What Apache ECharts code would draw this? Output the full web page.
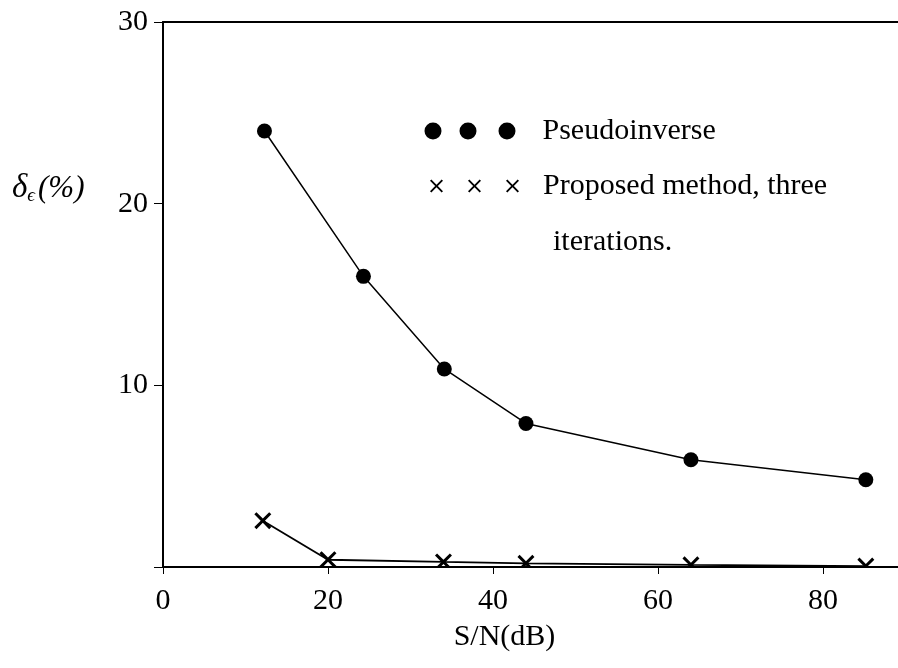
<!DOCTYPE html>
<html>
<head>
<meta charset="utf-8">
<script src="https://cdn.jsdelivr.net/npm/echarts@6/dist/echarts.min.js"></script>
<style>
  html, body { margin: 0; padding: 0; background: #fff; }
  #chart { width: 898px; height: 668px; }
</style>
</head>
<body>
<div id="chart"></div>
<script>
// Relative error vs. signal-to-noise ratio
const snrPseudo     = [12.3, 24.3, 34.1, 44.0, 64.0, 85.2];
const errPseudo     = [24.0, 16.0, 10.9, 7.9, 5.9, 4.8];
const snrProposed   = [12.1, 20.0, 34.0, 44.0, 64.0, 85.2];
const errProposed   = [2.55, 0.4, 0.28, 0.2, 0.12, 0.05];

const xTickValues = [0, 20, 40, 60, 80];
const yTickValues = [10, 20, 30];

const namePseudo   = 'Pseudoinverse';
const nameProposed = 'Proposed method, three iterations.';

const SERIF = "'Liberation Serif', 'Times New Roman', serif";
const FS = 30;

// X-shaped marker outline inside a square box of side s, arm half-thickness d
function crossPath(ox, s, d) {
  const h = s / 2;
  const pts = [
    [0, d], [d, 0], [h, h - d], [s - d, 0], [s, d], [h + d, h],
    [s, s - d], [s - d, s], [h, h + d], [d, s], [0, s - d], [h - d, h]
  ];
  return 'M' + pts.map(p => (p[0] + ox).toFixed(2) + ',' + p[1].toFixed(2)).join(' L') + ' Z';
}
function circlePath(cx, r) {
  return 'M' + (cx - r) + ',' + r + ' a' + r + ',' + r + ' 0 1,0 ' + (2 * r) + ',0 a' +
    r + ',' + r + ' 0 1,0 ' + (-2 * r) + ',0 Z';
}

const markerX = 'path://' + crossPath(0, 20, 2.5);
const legendDots = 'path://' + [0, 35, 74].map(o => circlePath(o + 8.5, 8.5)).join(' ');
const legendCrosses = 'path://' + [0, 38, 76].map(o => crossPath(o, 13, 1.35)).join(' ');

const chart = echarts.init(document.getElementById('chart'), null, { renderer: 'canvas' });

chart.setOption({
  animation: false,
  backgroundColor: '#fff',
  grid: { left: 163, right: 0, top: 22, bottom: 101, containLabel: false },
  title: [{
    left: 12, top: 172, padding: 0,
    text: '{d|δ}{e|ϵ}{p|(%)}',
    textStyle: {
      fontWeight: 'normal',
      rich: {
        d: { fontFamily: SERIF, fontStyle: 'italic', fontWeight: 'normal', fontSize: 33, color: '#000' },
        e: { fontFamily: SERIF, fontStyle: 'italic', fontWeight: 'normal', fontSize: 19, color: '#000', padding: [14, 3, 0, 0] },
        p: { fontFamily: SERIF, fontStyle: 'italic', fontWeight: 'normal', fontSize: 31, color: '#000' }
      }
    }
  }, {
    left: 553, top: 227, padding: 0,
    text: 'iterations.',
    textStyle: { fontFamily: SERIF, fontSize: FS, fontWeight: 'normal', color: '#000' }
  }],
  legend: [{
    left: 424.5, top: 116, padding: 0,
    itemWidth: 91, itemHeight: 17,
    data: [{ name: namePseudo, icon: legendDots }],
    textStyle: { fontFamily: SERIF, fontSize: FS, color: '#000', padding: [0, 0, 0, 22] },
    selectedMode: false
  }, {
    left: 430, top: 171, padding: 0,
    itemWidth: 89, itemHeight: 13,
    data: [{ name: nameProposed, icon: legendCrosses }],
    formatter: () => 'Proposed method, three',
    textStyle: { fontFamily: SERIF, fontSize: FS, color: '#000', padding: [0, 0, 0, 19] },
    selectedMode: false
  }],
  xAxis: [{
    type: 'value', min: 0, max: 89.1, interval: 20, z: 60,
    name: 'S/N(dB)', nameLocation: 'middle', nameGap: 55,
    nameTextStyle: { fontFamily: SERIF, fontSize: FS, color: '#000', padding: [0, 52, 0, 0] },
    axisLine: { show: true, onZero: false, lineStyle: { color: '#000', width: 2 } },
    axisTick: { show: true, inside: false, length: 7, lineStyle: { color: '#000', width: 1 } },
    axisLabel: {
      fontFamily: SERIF, fontSize: FS, color: '#000', margin: 19,
      showMaxLabel: false,
      formatter: v => xTickValues.includes(v) ? String(v) : ''
    },
    splitLine: { show: false }
  }, {
    type: 'value', position: 'top', min: 0, max: 89.1, z: 60,
    axisLine: { show: true, onZero: false, lineStyle: { color: '#000', width: 2 } },
    axisTick: { show: false }, axisLabel: { show: false }, splitLine: { show: false }
  }],
  yAxis: {
    type: 'value', min: 0, max: 30, interval: 10, z: 60,
    axisLine: { show: true, onZero: false, lineStyle: { color: '#000', width: 2 } },
    axisTick: { show: true, inside: false, length: 9, lineStyle: { color: '#000', width: 1 } },
    axisLabel: {
      fontFamily: SERIF, fontSize: FS, color: '#000', margin: 15,
      formatter: v => yTickValues.includes(v) ? String(v) : ''
    },
    splitLine: { show: false }
  },
  graphic: [{
    // keeps near-zero markers from spilling under the baseline
    type: 'rect', z: 50, silent: true,
    shape: { x: 165, y: 568, width: 733, height: 12 },
    style: { fill: '#fff' }
  }],
  series: [{
    name: namePseudo, type: 'line', xAxisIndex: 0,
    data: snrPseudo.map((x, i) => [x, errPseudo[i]]),
    symbol: 'circle', symbolSize: 15,
    itemStyle: { color: '#000' },
    lineStyle: { color: '#000', width: 1.5 },
    z: 2
  }, {
    name: nameProposed, type: 'line', xAxisIndex: 0,
    data: snrProposed.map((x, i) => [x, errProposed[i]]),
    symbol: markerX, symbolSize: 17,
    itemStyle: { color: '#000' },
    lineStyle: { color: '#000', width: 1.8 },
    z: 2
  }]
});
</script>
</body>
</html>
